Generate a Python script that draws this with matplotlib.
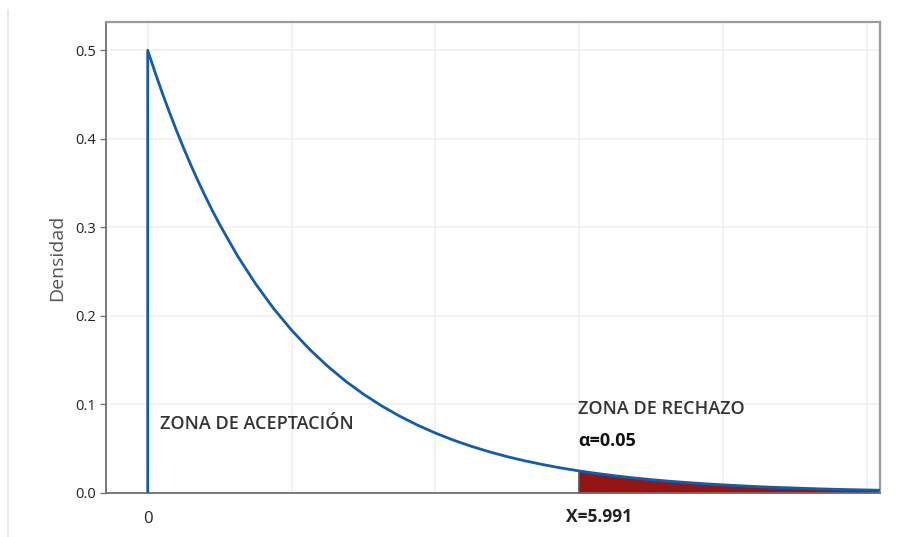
import numpy as np
import matplotlib
matplotlib.use("Agg")
import matplotlib.pyplot as plt
from matplotlib.lines import Line2D

plt.rcParams['font.family'] = ['Open Sans', 'DejaVu Sans']

# Chi-square (2 gl) density
x_vals = [0.0, 0.1, 0.2, 0.3, 0.4, 0.5, 0.6, 0.7, 0.8, 0.9, 1.0,
          1.25, 1.5, 1.75, 2.0, 2.25, 2.5, 2.75,
          3.0, 3.25, 3.5, 3.75, 4.0, 4.25, 4.5, 4.75, 5.0, 5.25, 5.5, 5.75,
          6.0, 6.25, 6.5, 6.75, 7.0, 7.25, 7.5, 7.75, 8.0, 8.25, 8.5, 8.75,
          9.0, 9.25, 9.5, 9.75, 10.0, 10.25]
dens = [0.5000, 0.4756, 0.4524, 0.4304, 0.4094, 0.3894, 0.3704, 0.3523,
        0.3352, 0.3188, 0.3033,
        0.2676, 0.2362, 0.2084, 0.1839, 0.1623, 0.1433, 0.1264,
        0.1116, 0.0985, 0.0869, 0.0767, 0.0677, 0.0597, 0.0527, 0.0465,
        0.0410, 0.0362, 0.0320, 0.0282,
        0.0249, 0.0220, 0.0194, 0.0171, 0.0151, 0.0133, 0.0118, 0.0104,
        0.0092, 0.0081, 0.0071, 0.0063, 0.0056, 0.0049, 0.0043, 0.0038,
        0.0034, 0.0030]
crit_x = 5.991
crit_y = 0.0250
y_ticks = [0.0, 0.1, 0.2, 0.3, 0.4, 0.5]
x_grid = [0, 2, 4, 6, 8, 10]

x = np.array(x_vals)
y = np.array(dens)

blue = "#155ba8"
red = "#931515"

fig = plt.figure(figsize=(9.05, 5.37), dpi=100)
ax = fig.add_axes([106/905, 44/537, 774/905, 471/537])

# rejection area
mask = x > crit_x
fx = np.concatenate([[crit_x], x[mask]])
fy = np.concatenate([[crit_y], y[mask]])
ax.fill_between(fx, 0, fy, color=red, lw=0, zorder=2)
ax.plot([crit_x, crit_x], [0, crit_y], color="#555555", lw=1.2, zorder=3)

# density curve (with the jump at 0)
ax.plot(np.concatenate([[0.0], x]), np.concatenate([[0.0], y]),
        color=blue, lw=2.0, zorder=4, solid_joinstyle="round")

ax.set_xlim(-0.58, 10.18)
ax.set_ylim(0, 0.532)
ax.set_yticks(y_ticks)
ax.set_yticklabels([f"{v:.1f}" for v in y_ticks])
ax.set_xticks(x_grid)
ax.set_xticklabels([])
ax.tick_params(axis="x", length=0)
ax.tick_params(axis="y", length=4, width=1, color="#777777",
               labelsize=10.5, labelcolor="#222222", pad=3)
ax.grid(True, color="#f0f0f0", lw=1.2, zorder=0)
ax.set_axisbelow(True)

for s in ["left", "bottom"]:
    ax.spines[s].set_color("#6e6e6e")
    ax.spines[s].set_linewidth(1.3)
for s in ["top", "right"]:
    ax.spines[s].set_color("#9a9a9a")
    ax.spines[s].set_linewidth(1.6)

ax.set_ylabel("Densidad", fontsize=14, color="#555555", labelpad=7)

ax.text(0, -0.029, "0", ha="center", va="center", fontsize=12,
        color="#222222", clip_on=False)
ax.text(6.27, -0.027, "X=5.991", ha="center", va="center", fontsize=12.5,
        fontweight="bold", color="#222222", clip_on=False)

ax.text(0.17, 0.078, "ZONA DE ACEPTACIÓN", ha="left", va="center",
        fontsize=13, color="#333333", fontweight="semibold")
ax.text(5.98, 0.095, "ZONA DE RECHAZO", ha="left", va="center",
        fontsize=13, color="#333333", fontweight="semibold")
ax.text(5.98, 0.059, "α=0.05", ha="left", va="center",
        fontsize=13, color="#111111", fontweight="bold")

# faint frame line on the left of the image
fig.add_artist(Line2D([8/905, 8/905], [0, 527/537], color="#e4e4e4", lw=1.2))

fig.savefig("out.png", dpi=100)
